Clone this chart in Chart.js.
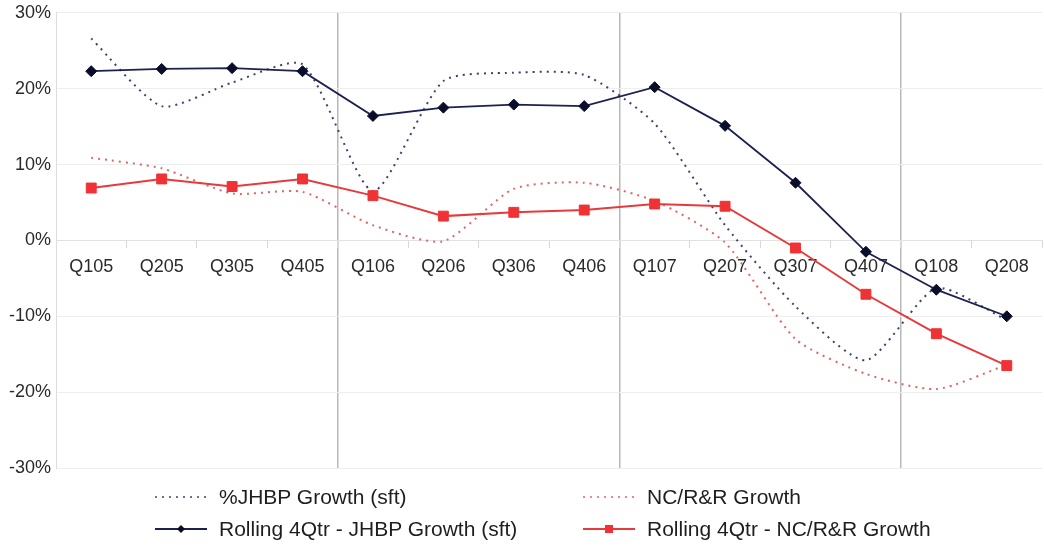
<!DOCTYPE html>
<html>
<head>
<meta charset="utf-8">
<script src="https://cdn.jsdelivr.net/npm/chart.js@4.4.1/dist/chart.umd.min.js"></script>
<style>
  html, body { margin: 0; padding: 0; background: #ffffff; overflow: hidden; }
  #wrap { position: relative; width: 1044px; height: 548px; overflow: hidden; }
  #chart { position: absolute; left: 0; top: -3px; }
  #legend { position: absolute; left: 155px; top: 484px; width: 860px;
            display: grid; grid-template-columns: 428px 430px; row-gap: 6px;
            font-family: "Liberation Sans", Arial, sans-serif; font-size: 21px; color: #1e1e1e; }
  .item { display: flex; align-items: center; height: 26px; white-space: nowrap; }
  .item svg { margin-right: 12px; flex: none; }
</style>
</head>
<body>
<div id="wrap">
  <canvas id="chart" width="1050" height="551"></canvas>
  <div id="legend"></div>
</div>
<script>
// ---- data ----
const categories = ["Q105","Q205","Q305","Q405","Q106","Q206","Q306","Q406","Q107","Q207","Q307","Q407","Q108","Q208"];
const jhbpGrowth = [26.6, 17.7, 20.8, 23.2, 6.5, 21.0, 22.1, 21.8, 15.4, 2.0, -8.7, -15.8, -6.3, -10.5];
const ncrrGrowth = [10.9, 9.5, 6.2, 6.4, 2.0, -0.1, 6.8, 7.6, 5.2, -0.3, -13.0, -17.6, -19.6, -16.4];
const rollingJhbp = [22.3, 22.6, 22.7, 22.3, 16.4, 17.5, 17.9, 17.7, 20.2, 15.1, 7.6, -1.5, -6.5, -10.0];
const rollingNcrr = [6.9, 8.1, 7.1, 8.1, 5.9, 3.2, 3.7, 4.0, 4.8, 4.5, -1.0, -7.1, -12.3, -16.5];
const yTicks = [-30, -20, -10, 0, 10, 20, 30];
const seriesNames = ["%JHBP Growth (sft)", "NC/R&R Growth", "Rolling 4Qtr - JHBP Growth (sft)", "Rolling 4Qtr - NC/R&R Growth"];

const NAVY = "#1c2150";
const NAVY_DOT = "#3c4270";
const RED = "#e8393b";
const RED_DOT = "#e06466";
const FONT = "'Liberation Sans', Arial, sans-serif";

const datasets = [
  { label: seriesNames[0], data: jhbpGrowth, borderColor: NAVY_DOT, borderWidth: 2,
    borderDash: [2, 5], pointRadius: 0, tension: 0.22, fill: false, order: 3 },
  { label: seriesNames[1], data: ncrrGrowth, borderColor: RED_DOT, borderWidth: 2,
    borderDash: [2, 5], pointRadius: 0, tension: 0.22, fill: false, order: 4 },
  { label: seriesNames[2], data: rollingJhbp, borderColor: NAVY, borderWidth: 1.8,
    pointStyle: "rectRot", pointRadius: 5.5, pointBackgroundColor: "#0a0d2a", pointBorderColor: "#0a0d2a",
    pointBorderWidth: 1, tension: 0, fill: false, order: 1 },
  { label: seriesNames[3], data: rollingNcrr, borderColor: RED, borderWidth: 2,
    pointStyle: "rect", pointRadius: 7, pointBackgroundColor: "#f03234", pointBorderColor: "#f03234",
    pointBorderWidth: 1, tension: 0, fill: false, order: 2 }
];

const sepIdx = [4, 8, 12];

const chart = new Chart(document.getElementById("chart"), {
  type: "line",
  data: { labels: categories, datasets: datasets },
  options: {
    responsive: false,
    animation: false,
    events: [],
    layout: { padding: { left: 4, right: 0, top: 9, bottom: 80 } },
    plugins: { legend: { display: false }, tooltip: { enabled: false }, title: { display: false } },
    scales: {
      x: {
        type: "category",
        offset: true,
        position: { y: 0 },
        grid: {
          offset: true,
          drawTicks: true,
          tickLength: 7,
          color: (ctx) => sepIdx.includes(ctx.index) ? "#b8b8b8" : "rgba(0,0,0,0)",
          tickColor: "#d8d8d8",
          lineWidth: (ctx) => sepIdx.includes(ctx.index) ? 1.5 : 1
        },
        border: { display: true, color: "#e2e2e2", width: 1 },
        ticks: { color: "#2a2a2a", font: { family: FONT, size: 18 }, padding: 9, maxRotation: 0, autoSkip: false }
      },
      y: {
        min: -30, max: 30,
        afterBuildTicks: (scale) => { scale.ticks = yTicks.map(v => ({ value: v })); },
        grid: { color: "#eeeeee", drawTicks: false },
        border: { display: true, color: "#dddddd" },
        ticks: { color: "#2a2a2a", font: { family: FONT, size: 18 }, padding: 5,
                 callback: (v) => v + "%" }
      }
    }
  }
});

// ---- HTML legend built from the datasets ----
function sampleSvg(ds) {
  const w = 52, h = 14, cy = 7;
  let s = `<svg width="${w}" height="${h}" viewBox="0 0 ${w} ${h}">`;
  if (ds.borderDash) {
    s += `<line x1="0" y1="${cy}" x2="${w}" y2="${cy}" stroke="${ds.borderColor}" stroke-width="1.5" stroke-dasharray="2 5"/>`;
  } else {
    s += `<line x1="0" y1="${cy}" x2="${w}" y2="${cy}" stroke="${ds.borderColor}" stroke-width="1.8"/>`;
    if (ds.pointStyle === "rectRot") {
      s += `<polygon points="${w/2},${cy-4} ${w/2+4},${cy} ${w/2},${cy+4} ${w/2-4},${cy}" fill="${ds.pointBackgroundColor}"/>`;
    } else {
      s += `<rect x="${w/2-4}" y="${cy-4}" width="8" height="8" fill="${ds.pointBackgroundColor}"/>`;
    }
  }
  return s + "</svg>";
}
const legendEl = document.getElementById("legend");
legendEl.innerHTML = chart.data.datasets.map(ds =>
  `<div class="item">${sampleSvg(ds)}<span>${ds.label}</span></div>`).join("");
</script>
</body>
</html>
